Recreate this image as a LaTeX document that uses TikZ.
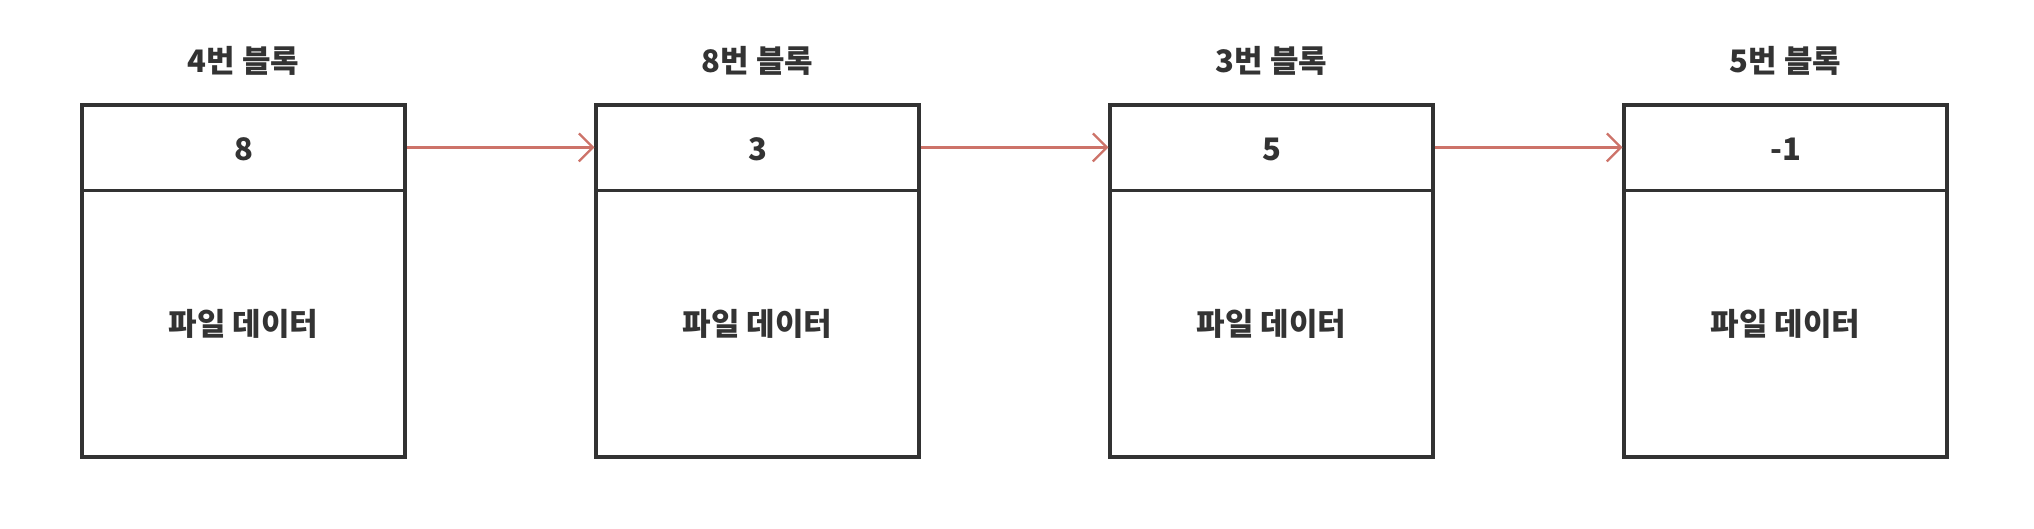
\documentclass[tikz,border=0pt]{standalone}
\usepackage{fontspec}
\setmainfont{Noto Sans CJK KR}
\usetikzlibrary{arrows.meta}
\definecolor{boxline}{RGB}{50,50,50}
\definecolor{arrowred}{RGB}{205,115,105}
\tikzset{
  blk/.style={draw=boxline, line width=3.2pt, minimum width=323pt, minimum height=352pt, inner sep=0pt},
  lbl/.style={font=\fontsize{31}{36}\selectfont\bfseries, text=black!80, inner sep=0pt},
  link/.style={draw=arrowred, line width=2.2pt, -{Straight Barb[length=14pt, width=28pt, line width=2.2pt]}},
  divline/.style={draw=boxline, line width=3.2pt}
}
\begin{document}
\begin{tikzpicture}[x=1pt, y=-1pt]
\useasboundingbox (0,0) rectangle (2034,528);
\foreach \i/\t/\n in {1/4/8, 2/8/3, 3/3/5, 4/5/-1}{
  \pgfmathsetmacro{\cx}{243.5+514*(\i-1)}
  \node[blk] (b\i) at (\cx,281) {};
  \draw[divline] ([yshift=-87pt]b\i.north west) coordinate (dl\i) -- ([yshift=-87pt]b\i.north east) coordinate (dr\i);
  \node[lbl] (t\i) at (\cx,61) {\t 번 블록};
  \node[lbl] (h\i) at (\cx,149) {\n};
  \node[lbl] (d\i) at (\cx,324) {파일 데이터};
}
\foreach \a/\b in {1/2, 2/3, 3/4}{
  \coordinate (s\a) at ([yshift=-44pt]b\a.north east);
  \coordinate (e\a) at ([yshift=-44pt]b\b.north west);
  \draw[link] (s\a) -- (e\a);
}
\end{tikzpicture}
\end{document}
